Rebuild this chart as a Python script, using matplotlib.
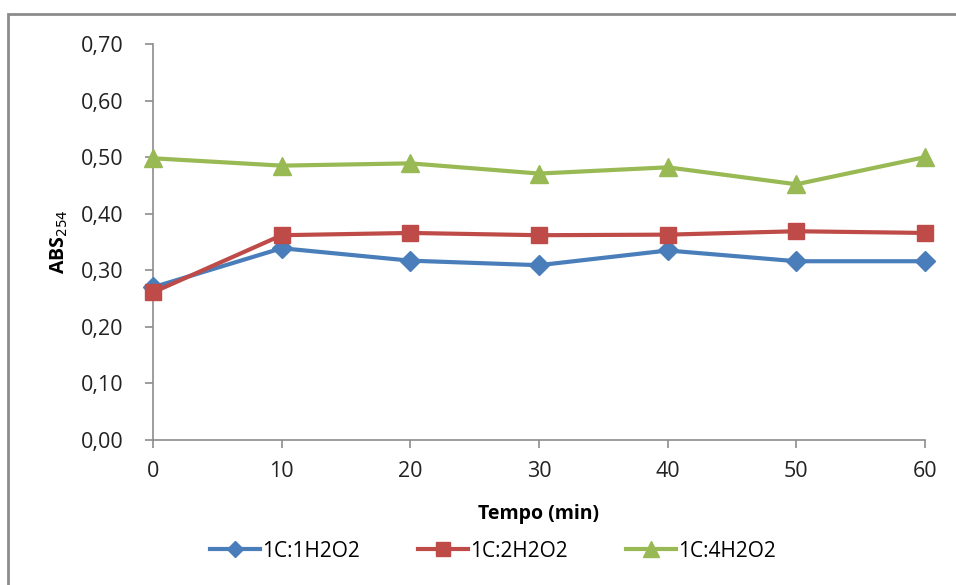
import matplotlib.pyplot as plt
from matplotlib.patches import Rectangle
from matplotlib.ticker import FuncFormatter

plt.rcParams['font.family'] = ['Open Sans', 'DejaVu Sans']

# sampling times (min) and absorbance at 254 nm
tempo = [0, 10, 20, 30, 40, 50, 60]
abs_1h2o2 = [0.270, 0.339, 0.317, 0.309, 0.335, 0.316, 0.316]
abs_2h2o2 = [0.261, 0.362, 0.366, 0.362, 0.363, 0.369, 0.366]
abs_4h2o2 = [0.498, 0.485, 0.489, 0.471, 0.482, 0.452, 0.500]
labels = ['1C:1H2O2', '1C:2H2O2', '1C:4H2O2']

fig = plt.figure(figsize=(9.56, 5.85), dpi=100)
ax = fig.add_axes([153/956, 1 - 440/585, (925 - 153)/956, (440 - 44)/585])

# outer chart frame
fig.patches.append(Rectangle((8/956, -0.1), 1.1, 1 - 14/585 + 0.1,
                             transform=fig.transFigure, fill=False,
                             edgecolor='#8c8c8c', linewidth=2))

ax.plot(tempo, abs_1h2o2, color='#4a7ebb', lw=3, marker='D', ms=10,
        label=labels[0], clip_on=False, zorder=3)
ax.plot(tempo, abs_2h2o2, color='#be4b48', lw=3, marker='s', ms=12,
        label=labels[1], clip_on=False, zorder=3)
ax.plot(tempo, abs_4h2o2, color='#98b954', lw=3, marker='^', ms=13,
        label=labels[2], clip_on=False, zorder=3)

ax.set_xlim(0, 60)
ax.set_ylim(0, 0.70)
ax.set_xticks(tempo)
ax.set_yticks([0.0, 0.1, 0.2, 0.3, 0.4, 0.5, 0.6, 0.7])
ax.yaxis.set_major_formatter(FuncFormatter(lambda v, p: f'{v:.2f}'.replace('.', ',')))

for side in ['top', 'right']:
    ax.spines[side].set_visible(False)
for side in ['left', 'bottom']:
    ax.spines[side].set_color('#8c8c8c')
    ax.spines[side].set_linewidth(1.2)
ax.tick_params(colors='#8c8c8c', labelcolor='#222222', labelsize=15.5,
               length=6, width=1.2)
ax.tick_params(axis='x', pad=9)
ax.tick_params(axis='y', pad=15)

ax.set_xlabel('Tempo (min)', fontsize=14, fontweight='bold', labelpad=16)
ax.set_ylabel('ABS$_{254}$', fontsize=14, fontweight='bold', labelpad=8)

ax.legend(loc='upper center', bbox_to_anchor=(0.44, -0.207), ncol=3,
          frameon=False, fontsize=15, handlelength=2.4, handletextpad=0.1,
          columnspacing=2.8, markerscale=0.85)

fig.savefig('out.png', dpi=100)
